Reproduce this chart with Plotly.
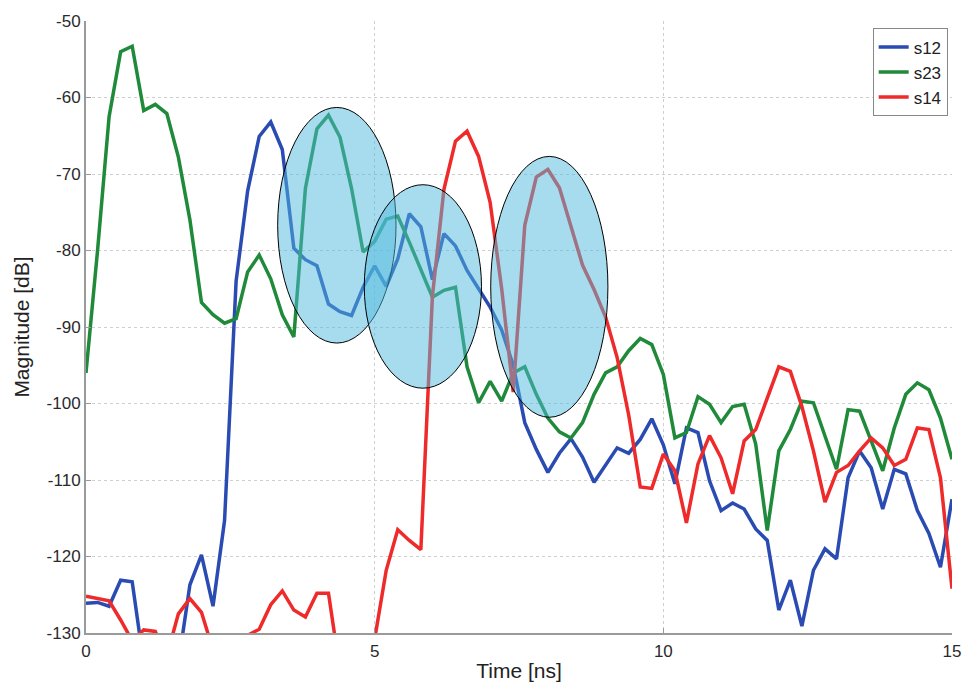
import plotly.graph_objects as go

time_ns = [0.0, 0.2, 0.4, 0.6, 0.8, 1.0, 1.2, 1.4, 1.6, 1.8,
           2.0, 2.2, 2.4, 2.6, 2.8, 3.0, 3.2, 3.4, 3.6, 3.8,
           4.0, 4.2, 4.4, 4.6, 4.8, 5.0, 5.2, 5.4, 5.6, 5.8,
           6.0, 6.2, 6.4, 6.6, 6.8, 7.0, 7.2, 7.4, 7.6, 7.8,
           8.0, 8.2, 8.4, 8.6, 8.8, 9.0, 9.2, 9.4, 9.6, 9.8,
           10.0, 10.2, 10.4, 10.6, 10.8, 11.0, 11.2, 11.4, 11.6, 11.8,
           12.0, 12.2, 12.4, 12.6, 12.8, 13.0, 13.2, 13.4, 13.6, 13.8,
           14.0, 14.2, 14.4, 14.6, 14.8, 15.0]

s12 = [-126.1, -126.0, -126.5, -123.1, -123.3, -134.0, -136.0, -136.0, -134.0, -123.7,
       -119.8, -126.5, -115.3, -84.0, -72.2, -65.1, -63.2, -66.8, -79.7, -81.2,
       -82.0, -87.0, -88.0, -88.5, -84.8, -82.0, -84.7, -81.1, -75.2, -76.9,
       -83.8, -77.8, -79.4, -82.6, -85.0, -87.4, -90.4, -95.0, -102.5, -106.0,
       -109.0, -106.5, -104.6, -107.0, -110.3, -108.0, -105.8, -106.5, -104.7, -102.0,
       -105.4, -110.5, -103.2, -103.8, -110.1, -114.0, -113.0, -113.8, -116.4, -117.9,
       -127.0, -123.1, -129.1, -121.8, -119.0, -120.3, -109.7, -106.2, -108.4, -113.8,
       -108.6, -109.2, -114.0, -117.0, -121.4, -112.5]

s23 = [-96.0, -80.0, -62.5, -54.0, -53.3, -61.7, -60.9, -62.1, -67.8, -76.0,
       -86.8, -88.4, -89.5, -88.9, -82.8, -80.6, -83.7, -88.4, -91.3, -71.9,
       -64.1, -62.3, -65.2, -71.9, -80.2, -78.8, -75.9, -75.5, -78.9, -82.4,
       -86.1, -85.2, -84.8, -95.2, -99.9, -97.1, -99.7, -96.0, -95.2, -98.8,
       -101.9, -103.7, -104.5, -102.5, -98.8, -96.0, -95.2, -93.1, -91.5, -92.3,
       -96.2, -104.5, -103.8, -99.1, -100.1, -102.5, -100.4, -100.1, -105.3, -116.6,
       -106.2, -103.4, -99.7, -99.9, -104.2, -108.6, -100.8, -101.0, -104.9, -108.8,
       -103.2, -98.8, -97.3, -98.2, -101.9, -107.3]

s14 = [-125.2, -125.5, -125.8, -128.3, -131.0, -129.6, -129.8, -133.0, -127.5, -125.5,
       -127.3, -132.2, -135.0, -134.0, -130.3, -129.5, -126.3, -124.5, -127.0, -127.9,
       -124.8, -124.8, -135.0, -137.0, -135.0, -130.8, -121.8, -116.5, -117.9, -119.1,
       -86.0, -72.0, -65.7, -64.4, -67.7, -73.7, -85.0, -98.5, -76.7, -70.4,
       -69.4, -71.8, -76.9, -81.9, -85.1, -88.7, -94.0, -101.5, -110.9, -111.1,
       -106.6, -108.8, -115.6, -107.9, -104.2, -107.1, -111.8, -104.9, -103.4, -99.3,
       -95.2, -95.8, -100.4, -106.2, -112.9, -109.0, -108.1, -106.2, -104.5, -105.8,
       -108.1, -107.3, -103.2, -103.4, -109.7, -124.2]

series_names = ["s12", "s23", "s14"]
series_colors = ["#2A4BB2", "#1F8A3A", "#EE2A2A"]

# highlighted regions (ellipses): (t0, t1, v_low, v_high)
ellipse_t0 = [3.32, 4.82, 7.01]
ellipse_t1 = [5.37, 6.85, 9.04]
ellipse_v0 = [-92.1, -98.0, -101.8]
ellipse_v1 = [-61.3, -71.4, -67.7]

x_ticks = [0, 5, 10, 15]
y_ticks = [-50, -60, -70, -80, -90, -100, -110, -120, -130]

FONT = "Liberation Sans, Arial, sans-serif"

fig = go.Figure()
for name, col, vals in zip(series_names, series_colors, [s12, s23, s14]):
    fig.add_trace(go.Scatter(x=time_ns, y=vals, mode="lines", name=name,
                             line=dict(color=col, width=3.5)))

for a, b, c, d in zip(ellipse_t0, ellipse_t1, ellipse_v0, ellipse_v1):
    fig.add_shape(type="circle", xref="x", yref="y", x0=a, x1=b, y0=c, y1=d,
                  fillcolor="rgba(80,185,222,0.5)", line=dict(color="black", width=1),
                  layer="above")

axis_common = dict(showgrid=True, gridcolor="#cfcfcf", griddash="dot", gridwidth=1,
                   showline=True, linecolor="#9a9a9a", linewidth=2,
                   ticks="inside", ticklen=5, tickcolor="#9a9a9a",
                   tickfont=dict(family=FONT, size=17, color="#2a2a2a"),
                   zeroline=False)

fig.update_xaxes(range=[0, 15], tickvals=x_ticks, ticktext=[str(v) for v in x_ticks],
                 ticklabelstandoff=2,
                 title=dict(text="Time [ns]", font=dict(family=FONT, size=21, color="#222222"),
                            standoff=3),
                 **axis_common)
fig.update_yaxes(range=[-130, -50], tickvals=y_ticks, ticktext=[str(v) for v in y_ticks],
                 ticklabelstandoff=0,
                 title=dict(text="Magnitude [dB]", font=dict(family=FONT, size=21, color="#222222"),
                            standoff=11),
                 **axis_common)

fig.update_layout(
    width=973, height=692,
    margin=dict(l=86, r=19, t=17, b=59),
    plot_bgcolor="white", paper_bgcolor="white",
    legend=dict(x=0.995, y=0.988, xanchor="right", yanchor="top",
                bordercolor="#888888", borderwidth=1, bgcolor="white",
                font=dict(family=FONT, size=17, color="#222222"),
                tracegroupgap=0),
    showlegend=True,
)

fig.write_html("out.html")
